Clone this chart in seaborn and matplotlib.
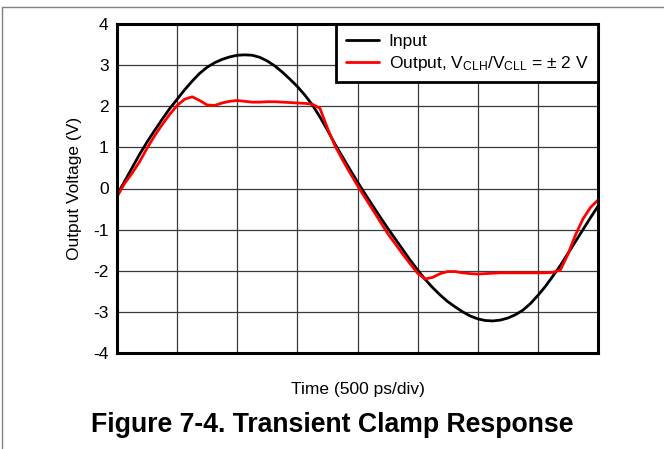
import matplotlib
matplotlib.use("Agg")
import matplotlib.pyplot as plt
from matplotlib.lines import Line2D
import pandas as pd
import seaborn as sns

# Time axis in picoseconds (500 ps per division, 8 divisions)
time_ps = [
    0, 62.5, 125, 187.5, 250, 312.5, 375, 437.5,
    500, 562.5, 625, 687.5, 750, 812.5, 875, 937.5,
    1000, 1062.5, 1125, 1187.5, 1250, 1312.5, 1375, 1437.5,
    1500, 1562.5, 1625, 1687.5, 1750, 1812.5, 1875, 1937.5,
    2000, 2062.5, 2125, 2187.5, 2250, 2312.5, 2375, 2437.5,
    2500, 2562.5, 2625, 2687.5, 2750, 2812.5, 2875, 2937.5,
    3000, 3062.5, 3125, 3187.5, 3250, 3312.5, 3375, 3437.5,
    3500, 3562.5, 3625, 3687.5, 3750, 3812.5, 3875, 3937.5,
    4000,
]

# Input waveform (V)
input_v = [
    -0.16, 0.17, 0.50, 0.83, 1.13, 1.41, 1.68, 1.94,
    2.17, 2.40, 2.61, 2.80, 2.95, 3.06, 3.14, 3.20,
    3.24, 3.25, 3.24, 3.19, 3.10, 2.98, 2.83, 2.66,
    2.48, 2.27, 2.03, 1.74, 1.42, 1.08, 0.77, 0.46,
    0.16, -0.13, -0.41, -0.69, -0.96, -1.22, -1.48, -1.74,
    -1.98, -2.21, -2.41, -2.59, -2.75, -2.88, -3.00, -3.10,
    -3.17, -3.21, -3.22, -3.20, -3.15, -3.07, -2.96, -2.80,
    -2.60, -2.38, -2.13, -1.87, -1.58, -1.29, -1.00, -0.71,
    -0.43,
]

# Clamped output waveform (V), clamp levels +/- 2 V
output_v = [
    -0.20, 0.12, 0.37, 0.65, 0.98, 1.28, 1.55, 1.80,
    2.02, 2.17, 2.23, 2.14, 2.03, 2.02, 2.08, 2.12,
    2.14, 2.12, 2.10, 2.10, 2.11, 2.11, 2.10, 2.09,
    2.08, 2.07, 2.05, 1.95, 1.47, 1.04, 0.70, 0.38,
    0.07, -0.22, -0.51, -0.80, -1.09, -1.34, -1.59, -1.83,
    -2.06, -2.20, -2.16, -2.07, -2.02, -2.02, -2.05, -2.07,
    -2.08, -2.07, -2.06, -2.05, -2.05, -2.05, -2.05, -2.05,
    -2.05, -2.05, -2.04, -1.98, -1.60, -1.13, -0.74, -0.46,
    -0.28,
]

y_ticks = [-4, -3, -2, -1, 0, 1, 2, 3, 4]
x_ticks = [0, 500, 1000, 1500, 2000, 2500, 3000, 3500, 4000]

series_labels = ["Input", r"Output, V$_\mathregular{CLH}$/V$_\mathregular{CLL}$ = $\pm$ 2 V"]
series_colors = ["#000000", "#ff0000"]

sns.set_theme(style="white")
plt.rcParams["font.family"] = ["Liberation Sans", "DejaVu Sans"]
plt.rcParams["mathtext.fontset"] = "custom"
plt.rcParams["mathtext.rm"] = "Liberation Sans"
plt.rcParams["mathtext.it"] = "Liberation Sans:italic"
plt.rcParams["mathtext.bf"] = "Liberation Sans:bold"
plt.rcParams["text.color"] = "black"
plt.rcParams["axes.labelcolor"] = "black"
plt.rcParams["xtick.color"] = "black"
plt.rcParams["ytick.color"] = "black"

FS = 12.5

df_in = pd.DataFrame({"t": time_ps, "v": input_v})
df_out = pd.DataFrame({"t": time_ps, "v": output_v})

fig = plt.figure(figsize=(6.64, 4.49), dpi=100)
ax = fig.add_axes([117 / 664, 1 - 353 / 449, (598 - 117) / 664, (353 - 24) / 449])

sns.lineplot(data=df_in, x="t", y="v", ax=ax, color=series_colors[0], linewidth=2.0, zorder=3)
sns.lineplot(data=df_out, x="t", y="v", ax=ax, color=series_colors[1], linewidth=2.0, zorder=4)

ax.set_xlim(x_ticks[0], x_ticks[-1])
ax.set_ylim(y_ticks[0], y_ticks[-1])
ax.set_xticks(x_ticks)
ax.set_yticks(y_ticks)
ax.set_xticklabels([])
ax.set_yticklabels([str(v) for v in y_ticks], fontsize=FS)
ax.tick_params(axis="both", length=0, pad=6)
ax.grid(True, color="#3a3a3a", linewidth=0.9)
ax.set_axisbelow(True)
for s in ax.spines.values():
    s.set_visible(True)
    s.set_color("black")
    s.set_linewidth(2.2)
    s.set_zorder(6)

ax.set_ylabel("Output Voltage (V)", fontsize=FS)
ax.yaxis.set_label_coords(-0.073, 0.5)
ax.set_xlabel("Time (500 ps/div)", fontsize=FS)
ax.xaxis.set_label_coords(0.5, -0.088)

handles = [Line2D([], [], color=c, linewidth=2.0) for c in series_colors]
leg = ax.legend(handles, series_labels, loc="upper right", bbox_to_anchor=(1.0, 1.0),
                borderaxespad=0.0, fontsize=FS, frameon=True, fancybox=False,
                framealpha=1.0, edgecolor="black", handlelength=1.9,
                handletextpad=0.57, labelspacing=0.3, borderpad=0.55)
leg.get_frame().set_linewidth(2.0)
leg.set_zorder(7)

fig.text(0.5, 1 - 425 / 449, "Figure 7-4. Transient Clamp Response",
         ha="center", va="center", fontsize=19.2, fontweight="bold")

# Page frame lines along the top and left edges
fig.add_artist(Line2D([1.5 / 664, 1.5 / 664], [0, 1 - 7 / 449], transform=fig.transFigure,
                      color="#808080", linewidth=1.0))
fig.add_artist(Line2D([1.5 / 664, 1], [1 - 7 / 449, 1 - 7 / 449], transform=fig.transFigure,
                      color="#808080", linewidth=1.0))

fig.savefig("out.png", dpi=100, facecolor="white")
